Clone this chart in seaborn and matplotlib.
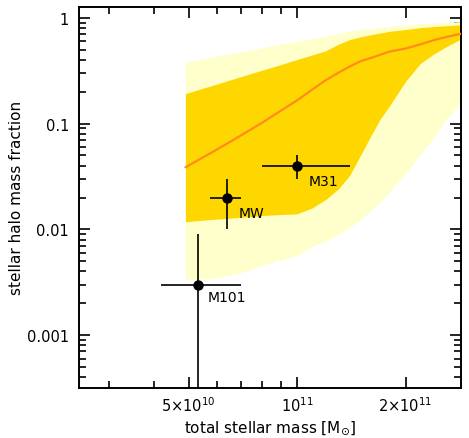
"""
Stellar halo mass fraction vs total stellar mass
"""
import matplotlib
matplotlib.use("Agg")
import matplotlib.pyplot as plt
import seaborn as sns
import pandas as pd
from matplotlib.ticker import FixedLocator, LogLocator, NullFormatter

sns.set_style("ticks")
plt.rcParams["font.family"] = ["DejaVu Sans"]
plt.rcParams["mathtext.fontset"] = "dejavusans"
plt.rcParams["text.color"] = "black"
plt.rcParams["axes.labelcolor"] = "black"
plt.rcParams["xtick.color"] = "black"
plt.rcParams["ytick.color"] = "black"

# model grid: total stellar mass [Msun]
mass = [4.9e10, 5.5e10, 6.0e10, 7.0e10, 8.0e10, 9.0e10, 1.0e11, 1.1e11, 1.2e11, 1.3e11,
        1.4e11, 1.5e11, 1.6e11, 1.7e11, 1.8e11, 2.0e11, 2.2e11, 2.4e11, 2.6e11, 2.85e11]
median = [0.0386, 0.0482, 0.0570, 0.0776, 0.102, 0.132, 0.166, 0.209, 0.257, 0.302,
          0.347, 0.389, 0.417, 0.447, 0.479, 0.513, 0.562, 0.617, 0.661, 0.708]
inner_hi = [0.192, 0.217, 0.237, 0.279, 0.320, 0.361, 0.404, 0.446, 0.488, 0.562,
            0.624, 0.661, 0.692, 0.719, 0.745, 0.776, 0.809, 0.828, 0.843, 0.861]
inner_lo = [0.0118, 0.0122, 0.0125, 0.0130, 0.0135, 0.0138, 0.0140, 0.0159, 0.0191, 0.0240,
            0.0324, 0.0501, 0.0759, 0.110, 0.145, 0.251, 0.372, 0.457, 0.537, 0.631]
outer_hi = [0.384, 0.412, 0.436, 0.480, 0.521, 0.562, 0.600, 0.637, 0.673, 0.708,
            0.755, 0.776, 0.794, 0.813, 0.826, 0.855, 0.883, 0.897, 0.910, 0.923]
outer_lo = [0.00331, 0.00339, 0.00347, 0.00389, 0.00457, 0.00513, 0.00562, 0.00692, 0.00776, 0.00891,
            0.0105, 0.0123, 0.0151, 0.0182, 0.0224, 0.0339, 0.0513, 0.0741, 0.112, 0.158]

# observed galaxies
galaxies = ["M101", "MW", "M31"]
gal_mass = [5.3e10, 6.4e10, 1.0e11]
gal_mass_lo = [4.2e10, 5.75e10, 8.0e10]
gal_mass_hi = [7.0e10, 7.0e10, 1.4e11]
gal_frac = [0.003, 0.020, 0.040]
gal_frac_lo = [1e-4, 0.010, 0.030]
gal_frac_hi = [0.009, 0.030, 0.050]
label_offsets = [(7, -9), (8, -11), (8, -11)]

model = pd.DataFrame({"mass": mass, "median": median})

fig = plt.figure(figsize=(4.69, 4.39), dpi=100)
ax = fig.add_axes([0.168, 0.114, 0.815, 0.868])

ax.fill_between(mass, outer_lo, outer_hi, color="#FFFFCC", lw=0, zorder=1)
ax.fill_between(mass, inner_lo, inner_hi, color="#FFD700", lw=0, zorder=2)
sns.lineplot(data=model, x="mass", y="median", color="#FF8C1A", lw=1.6, ax=ax, zorder=3)

xerr = [[m - lo for m, lo in zip(gal_mass, gal_mass_lo)],
        [hi - m for m, hi in zip(gal_mass, gal_mass_hi)]]
yerr = [[f - lo for f, lo in zip(gal_frac, gal_frac_lo)],
        [hi - f for f, hi in zip(gal_frac, gal_frac_hi)]]
ax.errorbar(gal_mass, gal_frac, xerr=xerr, yerr=yerr, fmt="o", color="black",
            ms=6.5, elinewidth=1.2, capsize=0, zorder=4)
for name, gx, gy, off in zip(galaxies, gal_mass, gal_frac, label_offsets):
    ax.annotate(name, (gx, gy), xytext=off, textcoords="offset points",
                ha="left", va="center", fontsize=10, color="black")

ax.set_xscale("log")
ax.set_yscale("log")
ax.set_xlim(2.48e10, 2.85e11)
ax.set_ylim(3.16e-4, 1.27)

ax.xaxis.set_major_locator(FixedLocator([5e10, 1e11, 2e11]))
ax.set_xticklabels([r"$5{\times}10^{10}$", r"$10^{11}$", r"$2{\times}10^{11}$"])
ax.xaxis.set_minor_locator(FixedLocator([3e10, 4e10, 6e10, 7e10, 8e10, 9e10]))
ax.xaxis.set_minor_formatter(NullFormatter())
ax.yaxis.set_major_locator(FixedLocator([0.001, 0.01, 0.1, 1]))
ax.set_yticklabels(["0.001", "0.01", "0.1", "1"])
ax.yaxis.set_minor_locator(LogLocator(base=10, subs=range(2, 10)))
ax.yaxis.set_minor_formatter(NullFormatter())

ax.tick_params(which="both", direction="in", top=True, right=True, width=1.2,
               color="black", labelcolor="black")
ax.tick_params(which="major", length=8, labelsize=10.5)
ax.tick_params(axis="y", which="major", pad=7)
ax.tick_params(axis="x", which="major", pad=5)
ax.tick_params(which="minor", length=5)
for s in ax.spines.values():
    s.set_linewidth(1.4)
    s.set_color("black")

ax.set_xlabel(r"total stellar mass [M$_{\odot}$]", fontsize=11, labelpad=3, color="black")
ax.set_ylabel("stellar halo mass fraction", fontsize=11, labelpad=2, color="black")

fig.savefig("out.png", dpi=100)
